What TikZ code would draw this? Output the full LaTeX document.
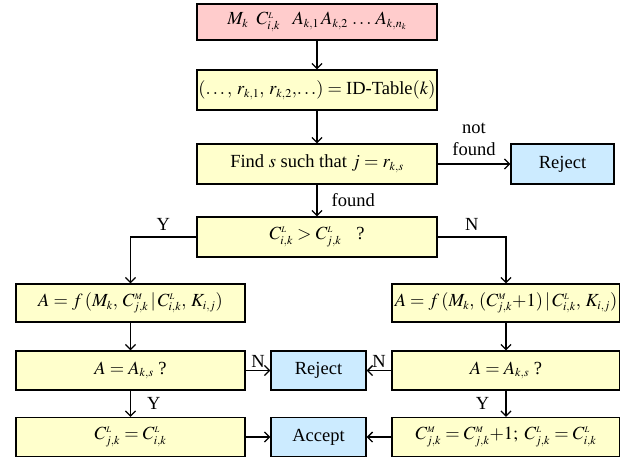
\documentclass[tikz,border=0pt]{standalone}
\usepackage{mathptmx}
\usepackage{fontspec}
\setmainfont{Liberation Serif}
\usetikzlibrary{arrows.meta}
\DeclareMathSizes{18.5}{18.5}{12}{8.5}
\definecolor{pinkfill}{RGB}{255,204,204}
\definecolor{yelfill}{RGB}{255,255,204}
\definecolor{bluefill}{RGB}{204,235,255}
\newcommand{\CL}[1]{C^{\scriptscriptstyle L}_{#1}}
\newcommand{\CM}[1]{C^{\scriptscriptstyle M}_{#1}}
\newcommand{\myvbar}{\,|\,}
\newcommand{\cs}{,\mkern2.5mu}
\begin{document}
\begin{tikzpicture}[x=1pt,y=-1pt,
  font=\fontsize{18.5}{22}\selectfont,
  box/.style={draw=black, line width=1.3pt, inner sep=0pt, align=center},
  pbox/.style={box, fill=pinkfill},
  ybox/.style={box, fill=yelfill},
  bbox/.style={box, fill=bluefill},
  arr/.style={line width=1.3pt, -{Straight Barb[length=5pt,width=10pt,line width=1.3pt]}},
  lbl/.style={inner sep=2pt}]
\useasboundingbox (0,0) rectangle (620,459);
\node[pbox, minimum width=240pt, minimum height=36pt] (top) at (317,22)
  {$M_k\;\; \CL{i,k}\;\;\; A_{k,1}\, A_{k,2}\,\ldots\, A_{k,n_k}$};
\node[ybox, minimum width=240pt, minimum height=40pt] (id) at (317,90)
  {$(\ldots\cs r_{k,1}\cs r_{k,2},\!\ldots) = \mbox{ID-Table}(k)$};
\node[ybox, minimum width=240pt, minimum height=40pt] (find) at (317,164)
  {Find $s$ such that $j = r_{k,s}$};
\node[bbox, minimum width=103pt, minimum height=40pt] (rej1) at (562.5,164) {Reject};
\node[ybox, minimum width=240pt, minimum height=40pt] (cmp) at (317,237)
  {$\CL{i,k} > \CL{j,k}$\;\; ?};
\node[ybox, minimum width=229pt, minimum height=38pt] (fL) at (130.5,303)
  {$A = f\,(M_k\cs \CM{j,k}\myvbar\CL{i,k}\cs K_{i,j})$};
\node[ybox, minimum width=228pt, minimum height=38pt] (fR) at (506,303)
  {$A = f\,(M_k\cs (\CM{j,k}{+}1)\myvbar\CL{i,k}\cs K_{i,j})$};
\node[ybox, minimum width=229pt, minimum height=39pt] (eqL) at (130.5,370.5)
  {$A = A_{k,s}$ ?};
\node[ybox, minimum width=228pt, minimum height=39pt] (eqR) at (506,370.5)
  {$A = A_{k,s}$ ?};
\node[bbox, minimum width=95pt, minimum height=39pt] (rej2) at (318.5,370.5) {Reject};
\node[ybox, minimum width=229pt, minimum height=39pt] (setL) at (130.5,437)
  {$\CL{j,k} = \CL{i,k}$};
\node[ybox, minimum width=228pt, minimum height=39pt] (setR) at (506,437)
  {$\CM{j,k} = \CM{j,k}{+}1;\; \CL{j,k} = \CL{i,k}$};
\node[bbox, minimum width=95pt, minimum height=39pt] (acc) at (318.5,437) {Accept};
\draw[arr] (top) -- (id);
\draw[arr] (id) -- (find);
\draw[arr] (find) -- node[lbl, right, xshift=12pt]{found} (cmp);
\draw[arr] (find) -- node[lbl, above, align=center, yshift=6pt]{not\\found} (rej1);
\draw[arr] (cmp.west) -| node[lbl, pos=0.25, above, yshift=4pt]{Y} (fL.north);
\draw[arr] (cmp.east) -| node[lbl, pos=0.25, above, yshift=4pt]{N} (fR.north);
\draw[arr] (fL) -- (eqL);
\draw[arr] (fR) -- (eqR);
\draw[arr] (eqL) -- node[lbl, above]{N} (rej2);
\draw[arr] (eqR) -- node[lbl, above]{N} (rej2);
\draw[arr] (eqL) -- node[lbl, right, xshift=14pt]{Y} (setL);
\draw[arr] (eqR) -- node[lbl, left, xshift=-14pt]{Y} (setR);
\draw[arr] (setL) -- (acc);
\draw[arr] (setR) -- (acc);
\end{tikzpicture}
\end{document}
